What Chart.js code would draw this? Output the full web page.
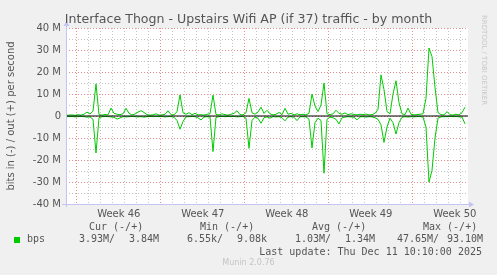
<!DOCTYPE html>
<html><head><meta charset="utf-8">
<script src="https://cdn.jsdelivr.net/npm/chart.js@4"></script>
<style>
html,body{margin:0;padding:0;background:#f0f0f0;}
#wrap{position:relative;width:497px;height:275px;overflow:hidden;background:#f0f0f0;}
canvas{position:absolute;left:0;top:0;}
.t{position:absolute;white-space:pre;color:#555;font-family:'DejaVu Sans Mono',monospace;font-size:10px;line-height:12px;}
</style></head><body>
<div id="wrap">
<canvas id="c" width="497" height="275"></canvas>
<div id="title" style="position:absolute;left:0;width:497px;text-align:center;top:11px;color:#555;font-family:'DejaVu Sans',sans-serif;font-size:12.6px;line-height:15px;white-space:pre;"></div>
<div id="legend"></div>
</div>
<script>
// ---- data (Mbit/s), one value per 6-hour slot ----
const titleText = 'Interface Thogn - Upstairs Wifi AP (if 37) traffic - by month';
const yTitle = 'bits in (-) / out (+) per second';
const weekLabels = ['Week 46','Week 47','Week 48','Week 49','Week 50'];
const seriesName = 'bps';
const statHeaders = ['Cur (-/+)','Min (-/+)','Avg (-/+)','Max (-/+)'];
const statIn  = ['3.93M','6.55k','1.03M','47.65M'];
const statOut = ['3.84M','9.08k','1.34M','93.10M'];
const lastUpdate = 'Last update: Thu Dec 11 10:10:00 2025';
const footer = 'Munin 2.0.76';
const sideText = 'RRDTOOL / TOBI OETIKER';
const slotDays = 0.25;
const outBps = [
 0.3,0.4,0.5,0.3,0.6,0.4,0.8,1.8,0.9,2.2,
 14.6,0.6,0.4,0.7,0.5,3.6,1.2,0.8,0.6,1.0,
 3.5,1.2,0.5,0.9,1.8,2.4,1.6,0.6,0.4,0.5,
 1.0,0.4,0.5,0.8,2.4,0.6,0.5,2.0,9.6,1.5,
 0.8,1.5,0.6,1.2,0.5,0.6,0.4,0.8,1.0,9.5,
 0.7,0.5,1.0,0.6,0.4,0.8,1.2,2.4,0.6,0.5,
 1.5,8.0,1.5,0.8,1.8,4.0,1.2,2.6,1.0,0.5,
 0.8,1.6,0.6,3.5,0.8,1.2,0.5,1.0,0.6,0.8,
 0.5,1.2,10.0,4.5,2.0,5.0,15.0,1.0,0.6,1.0,
 2.6,1.2,0.8,1.4,0.6,1.0,0.7,0.5,0.8,0.6,
 0.9,0.5,0.6,1.2,3.0,18.7,12.0,2.0,1.0,10.0,
 16.0,6.0,1.0,0.6,3.6,0.8,0.5,0.6,0.8,1.0,
 8.0,30.9,27.0,13.0,1.5,0.6,0.5,2.0,0.6,0.4,
 0.8,0.5,1.5,4.0
];
const inBps = [
 -0.2,-0.3,-0.2,-0.4,-0.3,-0.2,-0.3,-0.5,-0.4,-1.5,
 -16.8,-0.8,-0.3,-0.2,-0.3,-0.4,-0.6,-1.4,-0.9,-0.3,
 -0.4,-0.3,-0.2,-0.3,-0.4,-0.3,-0.5,-0.3,-0.2,-0.3,
 -0.2,-0.3,-0.2,-0.4,-0.3,-0.2,-0.6,-2.0,-6.0,-2.5,
 -0.4,-0.3,-0.2,-0.3,-0.8,-1.8,-0.5,-0.3,-0.4,-16.2,
 -0.6,-0.3,-0.2,-0.3,-0.2,-0.3,-0.2,-0.4,-0.3,-0.2,
 -1.0,-14.7,-2.0,-0.5,-1.0,-3.3,-0.8,-0.4,-1.0,-0.3,
 -0.4,-0.3,-0.8,-2.2,-0.5,-0.3,-0.6,-2.1,-0.4,-0.3,
 -0.4,-1.5,-14.5,-3.0,-1.0,-2.0,-26.0,-1.5,-0.5,-0.8,
 -1.5,-3.6,-0.8,-0.5,-0.3,-0.4,-0.6,-1.7,-0.4,-0.3,
 -0.5,-0.3,-0.4,-0.8,-1.5,-4.0,-12.0,-5.0,-1.0,-3.0,
 -8.2,-3.0,-0.6,-0.3,-0.5,-0.3,-0.4,-0.3,-0.2,-0.5,
 -5.0,-30.1,-24.7,-10.0,-1.0,-0.4,-0.3,-0.3,-0.2,-0.3,
 -0.2,-0.4,-0.5,-3.6
];
const spanDays = 33.5;
const firstDayLine = 0.9;

const GREEN = '#00cc00';
const TXT = '#555';
const MAJOR = 'rgba(228,120,120,0.85)';
const MINOR = 'rgba(190,190,190,0.9)';
const AXIS = '#c4c4f0';

document.getElementById('title').textContent = titleText;

// legend (html text)
const lg = document.getElementById('legend');
function put(txt, left, top, extra){
  const d = document.createElement('div'); d.className='t'; d.textContent=txt;
  d.style.left = left+'px'; d.style.top = top+'px';
  if (extra) Object.assign(d.style, extra);
  lg.appendChild(d); return d;
}
const hdrX = [89, 200, 312, 423];
statHeaders.forEach((h,i)=>put(h, hdrX[i], 221));
const sq = document.createElement('div');
Object.assign(sq.style,{position:'absolute',left:'14px',top:'237px',width:'6px',height:'6px',background:GREEN});
lg.appendChild(sq);
put(seriesName, 27, 233);
const inX = [79, 187, 295, 397];
const outX = [129, 237, 345, 447];
statIn.forEach((v,i)=>put(v+'/', inX[i], 233));
statOut.forEach((v,i)=>put(v, outX[i], 233));
put(lastUpdate, 0, 245.5, {left:'auto', right:'15px'});
put(footer, 0, 258, {left:'0', width:'497px', textAlign:'center', fontFamily:"'DejaVu Sans',sans-serif", fontSize:'8px', lineHeight:'10px', color:'#c4c4c4'});

const gridDays = []; for (let d = firstDayLine; d < spanDays; d += 1) gridDays.push(+d.toFixed(3));
const weekMid = weekLabels.map((w,i)=>firstDayLine + 3.5 + 7*i);

const bgPlugin = {
  id:'bg',
  beforeDraw(chart){
    const c = chart.ctx, a = chart.chartArea;
    c.save(); c.fillStyle='#f0f0f0'; c.fillRect(0,0,chart.width,chart.height);
    c.fillStyle='#ffffff'; c.fillRect(a.left,a.top,a.right-a.left,a.bottom-a.top); c.restore();
  },
  afterDraw(chart){
    const c = chart.ctx, a = chart.chartArea;
    c.save();
    c.strokeStyle = AXIS; c.fillStyle = AXIS; c.lineWidth = 1;
    const lx = Math.round(a.left)+0.5, by = Math.round(a.bottom)+0.5;
    c.beginPath(); c.moveTo(lx, a.bottom+3); c.lineTo(lx, a.top-4); c.stroke();
    c.beginPath(); c.moveTo(a.left-4, by); c.lineTo(a.right+3, by); c.stroke();
    c.beginPath(); c.moveTo(lx-3, a.top-2); c.lineTo(lx+3, a.top-2); c.lineTo(lx, a.top-7); c.closePath(); c.fill();
    c.beginPath(); c.moveTo(a.right+1, by-3); c.lineTo(a.right+1, by+3); c.lineTo(a.right+6, by); c.closePath(); c.fill();
    c.fillStyle = '#c8c8c8'; c.font = "7px 'DejaVu Sans'";
    c.translate(484, 15); c.rotate(Math.PI/2); c.textBaseline='middle'; c.fillText(sideText, 0, 0);
    c.restore();
  }
};

new Chart(document.getElementById('c'), {
  type:'line',
  data:{datasets:[
    {label:'out', data: outBps.map((v,i)=>({x:i*slotDays,y:v})), borderColor:GREEN, borderWidth:1, pointRadius:0, tension:0, order:2},
    {label:'in', data: inBps.map((v,i)=>({x:i*slotDays,y:v})), borderColor:GREEN, borderWidth:1, pointRadius:0, tension:0, order:1},
    {label:'zero', data:[{x:0,y:0},{x:spanDays,y:0}], borderColor:'#000', borderWidth:1, pointRadius:0, order:0}
  ]},
  options:{
    responsive:false, animation:false, devicePixelRatio:1,
    layout:{padding:{left:0,right:29,top:28,bottom:51}},
    plugins:{legend:{display:false}, tooltip:{enabled:false}, title:{display:false}},
    scales:{
      x:{type:'linear', min:0, max:spanDays, position:'bottom',
        afterBuildTicks:s=>{ s.ticks = gridDays.map(v=>({value:v})); },
        afterFit:s=>{ s.height = 0; },
        ticks:{display:false},
        grid:{drawTicks:false, lineWidth:1, color:c=>{ const k = Math.round((c.tick.value-firstDayLine)); return k%7===0?MAJOR:MINOR; }},
        border:{display:false, dash:[1,2]}},
      xl:{type:'linear', min:0, max:spanDays, position:'bottom',
        afterBuildTicks:s=>{ s.ticks = weekMid.map(v=>({value:v})); },
        afterFit:s=>{ s.height = 20; },
        ticks:{autoSkip:false, maxRotation:0, padding:-4, color:TXT, font:{family:'DejaVu Sans', size:10}, callback:(v,i)=>weekLabels[i]},
        grid:{display:false}, border:{display:false}},
      y:{min:-40, max:40,
        afterFit:s=>{ s.width = 66; },
        ticks:{stepSize:5, autoSkip:false, padding:5, color:TXT, font:{family:'DejaVu Sans', size:10},
          callback:v=> (v%10!==0) ? '' : (v===0 ? '0' : v+' M')},
        grid:{drawTicks:false, lineWidth:1, color:c=> (c.tick && c.tick.value%10===0) ? MAJOR : MINOR},
        border:{display:false, dash:[1,2]},
        title:{display:true, text:yTitle, color:TXT, font:{family:'DejaVu Sans', size:10}, padding:{top:5,bottom:0}}}
    }
  },
  plugins:[bgPlugin]
});
</script>
</body></html>
